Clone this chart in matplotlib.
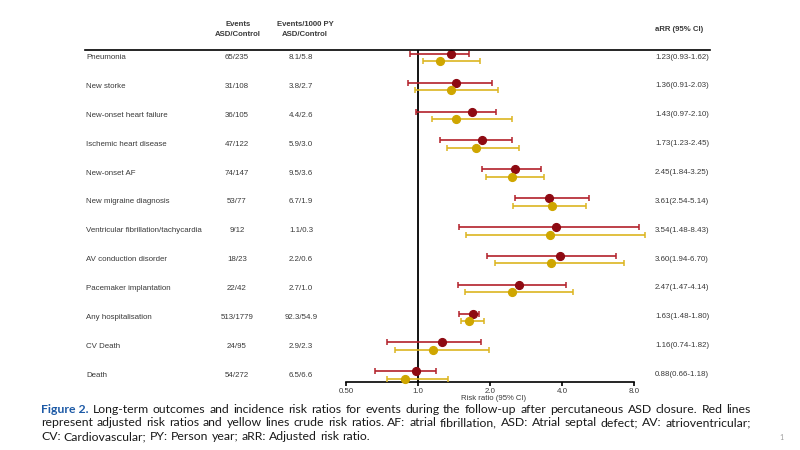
import matplotlib
matplotlib.use("Agg")
import matplotlib.pyplot as plt
from matplotlib.lines import Line2D
from matplotlib.ticker import FixedLocator, NullLocator
import matplotlib.transforms as mtrans

outcomes = ["Pneumonia", "New storke", "New-onset heart failure", "Ischemic heart disease",
            "New-onset AF", "New migraine diagnosis", "Ventricular fibrillation/tachycardia",
            "AV conduction disorder", "Pacemaker implantation", "Any hospitalisation",
            "CV Death", "Death"]
events = ["65/235", "31/108", "36/105", "47/122", "74/147", "53/77", "9/12", "18/23",
          "22/42", "513/1779", "24/95", "54/272"]
events_py = ["8.1/5.8", "3.8/2.7", "4.4/2.6", "5.9/3.0", "9.5/3.6", "6.7/1.9", "1.1/0.3",
             "2.2/0.6", "2.7/1.0", "92.3/54.9", "2.9/2.3", "6.5/6.6"]
arr_text = ["1.23(0.93-1.62)", "1.36(0.91-2.03)", "1.43(0.97-2.10)", "1.73(1.23-2.45)",
            "2.45(1.84-3.25)", "3.61(2.54-5.14)", "3.54(1.48-8.43)", "3.60(1.94-6.70)",
            "2.47(1.47-4.14)", "1.63(1.48-1.80)", "1.16(0.74-1.82)", "0.88(0.66-1.18)"]

# adjusted (red) and crude (yellow) risk ratios as drawn in the figure
adj_est = [1.38, 1.44, 1.68, 1.86, 2.55, 3.54, 3.76, 3.92, 2.64, 1.69, 1.26, 0.98]
adj_lo = [0.93, 0.91, 0.98, 1.23, 1.85, 2.55, 1.48, 1.95, 1.47, 1.48, 0.74, 0.66]
adj_hi = [1.63, 2.04, 2.11, 2.46, 3.27, 5.19, 8.42, 6.75, 4.17, 1.80, 1.83, 1.19]
crude_est = [1.23, 1.37, 1.44, 1.74, 2.46, 3.63, 3.55, 3.61, 2.47, 1.63, 1.16, 0.885]
crude_lo = [1.05, 0.97, 1.14, 1.32, 1.92, 2.50, 1.58, 2.10, 1.57, 1.52, 0.80, 0.74]
crude_hi = [1.82, 2.16, 2.46, 2.64, 3.37, 5.04, 8.89, 7.29, 4.46, 1.88, 1.98, 1.33]

xticks = [0.5, 1, 2, 4, 8]
xtick_labels = ["0.50", "1.0", "2.0", "4.0", "8.0"]

caption_lines = [
    "Long-term outcomes and incidence risk ratios for events during the follow-up after percutaneous ASD closure. Red lines",
    "represent adjusted risk ratios and yellow lines crude risk ratios. AF: atrial fibrillation, ASD: Atrial septal defect; AV: atrioventricular;",
    "CV: Cardiovascular; PY: Person year; aRR: Adjusted risk ratio.",
]

W, H = 800, 450
RED_LINE, RED_DOT, RED_CAP = "#b3202a", "#8e0a12", "#5a1826"
YEL_LINE, YEL_DOT = "#dcb520", "#cfa600"
TXT = "#3a3a3a"
TFONT = ["Liberation Sans", "DejaVu Sans"]
CFONT = ["Lato", "DejaVu Sans"]


def fx(x):
    return x / W


def fy(y):
    return 1 - y / H


fig = plt.figure(figsize=(8, 4.5), dpi=100)
fig.patch.set_facecolor("white")

# forest plot axes: x from 0.5 (px 346) to 8 (px 634), y from px 50 to 382
ax = fig.add_axes([fx(346), fy(382), fx(634 - 346), (382 - 50) / H])
ax.set_xscale("log", base=2)
ax.set_xlim(0.5, 8)
row0, step = 57.7, 28.85
ax.set_ylim((382 - row0) / step, (50 - row0) / step)
n = len(outcomes)
rows = list(range(n))
off = 0.13

err_kw = dict(fmt="o", ms=5.6, elinewidth=1.2, capsize=2.2, capthick=1.1, zorder=3)
r = ax.errorbar(adj_est, [i - off for i in rows],
                xerr=[[e - l for e, l in zip(adj_est, adj_lo)], [h - e for e, h in zip(adj_est, adj_hi)]],
                color=RED_DOT, ecolor=RED_LINE, mec=RED_DOT, **err_kw)
for c in r[1]:
    c.set_color(RED_CAP)
y = ax.errorbar(crude_est, [i + off for i in rows],
                xerr=[[e - l for e, l in zip(crude_est, crude_lo)], [h - e for e, h in zip(crude_est, crude_hi)]],
                color=YEL_DOT, ecolor=YEL_LINE, mec=YEL_DOT, **err_kw)
for cont in (r, y):
    for a in cont.get_children():
        a.set_clip_on(False)

ax.axvline(1, color="black", lw=1.3, zorder=2)
for s in ["top", "right", "left"]:
    ax.spines[s].set_visible(False)
ax.spines["bottom"].set_linewidth(1.2)
ax.xaxis.set_major_locator(FixedLocator(xticks))
ax.xaxis.set_minor_locator(NullLocator())
ax.set_xticklabels(xtick_labels, fontsize=5.7, family=TFONT, color=TXT)
ax.tick_params(axis="x", length=3, width=1.2, pad=1.5)
ax.set_yticks([])
ax.patch.set_alpha(0)

# top rule of the table
fig.add_artist(Line2D([fx(85), fx(710)], [fy(50), fy(50)], color="black", lw=1.2))

# table text, x in figure fraction, y in rows
tr = mtrans.blended_transform_factory(fig.transFigure, ax.transData)
tk = dict(fontsize=5.65, family=TFONT, color=TXT, va="center", transform=tr, clip_on=False)
for i in rows:
    ax.text(fx(86), i, outcomes[i], ha="left", **tk)
    ax.text(fx(237), i, events[i], ha="center", **tk)
    ax.text(fx(301), i, events_py[i], ha="center", **tk)
    ax.text(fx(655), i - 0.02, arr_text[i], ha="left", **tk)

hk = dict(fontsize=5.6, family=TFONT, color=TXT, weight="bold", va="center")
fig.text(fx(238), fy(25), "Events", ha="center", **hk)
fig.text(fx(238), fy(34), "ASD/Control", ha="center", **hk)
fig.text(fx(305), fy(25), "Events/1000 PY", ha="center", **hk)
fig.text(fx(305), fy(34), "ASD/Control", ha="center", **hk)
fig.text(fx(655), fy(29.5), "aRR (95% CI)", ha="left", **hk)
fig.text(fx(494), fy(398), "Risk ratio (95% CI)", ha="center", va="center",
         fontsize=5.6, family=TFONT, color=TXT)

# caption, justified to the text block width
cap_left, cap_right = 41, 751
cap_base = [413, 426.5, 440]
renderer = fig.canvas.get_renderer()


def width_px(t):
    return t.get_window_extent(renderer).width


# size the caption font so the longest line fits the block with normal spacing
probe = fig.text(0, 0, caption_lines[1], fontsize=10, family=CFONT)
cap_size = 10 * (cap_right - cap_left) / width_px(probe) * 0.985
probe.remove()
ck = dict(fontsize=cap_size, family=CFONT, color="#1a1a1a", va="baseline")

probe1 = fig.text(0, 0, "a a", **ck)
probe2 = fig.text(0, 0, "aa", **ck)
space = width_px(probe1) - width_px(probe2)
probe1.remove()
probe2.remove()

for k, line in enumerate(caption_lines):
    items = []
    if k == 0:
        items.append(("Figure 2.", dict(ck, color="#1d5aa6", weight="bold")))
    items += [(w, ck) for w in line.split(" ")]
    arts = [fig.text(0, fy(cap_base[k]), w, **kw) for w, kw in items]
    widths = [width_px(a) for a in arts]
    if k < len(caption_lines) - 1:
        gap = (cap_right - cap_left - sum(widths)) / (len(arts) - 1)
    else:
        gap = space
    x = cap_left
    for a, wd in zip(arts, widths):
        a.set_x(fx(x))
        x += wd + gap

fig.text(fx(779), fy(437), "1", fontsize=5, color="#999999", va="center", family=CFONT)

fig.savefig("out.png", dpi=100, facecolor="white")
